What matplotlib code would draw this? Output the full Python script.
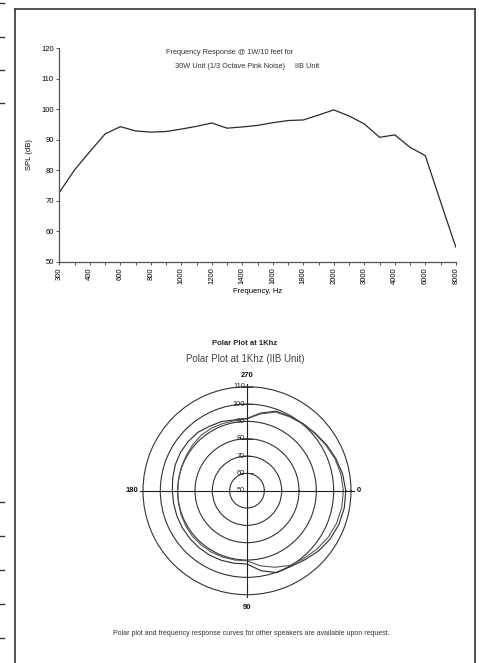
import numpy as np
import matplotlib
matplotlib.use("Agg")
import matplotlib.pyplot as plt
from matplotlib.lines import Line2D

plt.rcParams['font.family'] = ['Liberation Sans', 'DejaVu Sans']

# ---------------- data ----------------
freq_categories = ["300", "350", "400", "500", "600", "700", "800", "900", "1000",
                   "1100", "1200", "1300", "1400", "1500", "1600", "1700", "1800",
                   "1900", "2000", "2500", "3000", "3500", "4000", "5000", "6000",
                   "7000", "8000"]
spl_db = [72.7, 80.1, 86.1, 91.9, 94.3, 92.9, 92.5, 92.7, 93.5, 94.4, 95.5, 93.8,
          94.2, 94.7, 95.6, 96.3, 96.5, 98.1, 99.8, 97.8, 95.2, 90.8, 91.6, 87.5,
          84.8, 69.7, 54.8]
spl_ticks = [50, 60, 70, 80, 90, 100, 110, 120]

polar_angles = list(range(0, 360, 10))
polar_series_a = [107.0, 107.0, 106.5, 105.5, 104.0, 102.0, 100.5, 100.3, 96.9, 92.3,
                  92.5, 92.8, 93.0, 93.0, 93.0, 93.0, 93.0, 93.0, 93.1, 93.5,
                  94.0, 94.3, 94.2, 94.0, 93.0, 92.5, 91.5, 91.7, 95.5, 98.8,
                  99.5, 100.5, 101.5, 103.0, 104.5, 106.0]
polar_series_b = [105.6, 105.5, 105.0, 104.0, 102.5, 101.0, 99.8, 97.0, 94.0, 90.5,
                  90.6, 90.8, 91.0, 91.0, 91.0, 90.8, 90.5, 90.2, 90.0, 90.0,
                  90.2, 90.5, 91.0, 91.5, 91.5, 91.2, 91.0, 91.5, 95.0, 98.3,
                  99.2, 100.2, 101.2, 102.5, 104.0, 105.0]
polar_rings = [60, 70, 80, 90, 100, 110]
polar_angle_labels = ["0", "90", "180", "270"]

W, H = 479, 663
fig = plt.figure(figsize=(W / 100, H / 100), dpi=100)

def fx(px):
    return px / W

def fy(py):
    return 1 - py / H

line_col = '#2a2a2a'
axis_col = '#555555'

# ---------------- page frame & scan marks ----------------
frame_col = '#444444'
for (x0, y0, x1, y1) in [(15, 9, 15, 663), (15, 9, 475, 9), (475, 9, 475, 663)]:
    fig.add_artist(Line2D([fx(x0), fx(x1)], [fy(y0), fy(y1)], color=frame_col, lw=1.3))
for yy in [3, 37, 70, 103, 502, 536, 570, 604, 638]:
    fig.add_artist(Line2D([0, fx(4)], [fy(yy), fy(yy)], color='#333333', lw=1.0))

# ---------------- frequency response ----------------
ax = fig.add_axes([fx(59.3), fy(261.7), fx(455.8) - fx(59.3), fy(48.3) - fy(261.7)])
x = np.arange(len(freq_categories))
ax.plot(x, spl_db, color=line_col, lw=0.9)
ax.set_xlim(0, len(freq_categories) - 1)
ax.set_ylim(50, 120)
ax.set_yticks(spl_ticks)
ax.set_yticklabels([str(t) for t in spl_ticks], fontsize=5.5)
ax.set_xticks(x)
ax.set_xticklabels([c if i % 2 == 0 else "" for i, c in enumerate(freq_categories)],
                   rotation=90, fontsize=5.5)
for s in ['top', 'right']:
    ax.spines[s].set_visible(False)
for s in ['left', 'bottom']:
    ax.spines[s].set_color(axis_col)
    ax.spines[s].set_linewidth(0.9)
ax.tick_params(axis='both', direction='out', length=2.5, width=0.7, color=axis_col, pad=1.5)
ax.set_xlabel("Frequency, Hz", fontsize=5.5, labelpad=3)
ax.set_ylabel("SPL (dB)", fontsize=5.5, labelpad=6)

fig.text(fx(229.6), fy(52.7), "Frequency Response @ 1W/10 feet for", fontsize=5.3,
         ha='center', va='center', color='#333333')
fig.text(fx(247.5), fy(66), "30W Unit (1/3 Octave Pink Noise)     IIB Unit", fontsize=5.3,
         ha='center', va='center', color='#333333')

# ---------------- polar plot ----------------
fig.text(fx(245), fy(343), "Polar Plot at 1Khz", fontsize=5.5, fontweight='bold',
         ha='center', va='center', color='#222222')
fig.text(fx(245), fy(359), "Polar Plot at 1Khz (IIB Unit)", fontsize=7.0,
         ha='center', va='center', color='#444444')

cx, cy, R = 247, 490.7, 104
pax = fig.add_axes([fx(cx - R), fy(cy + R), 2 * R / W, 2 * R / H], projection='polar')
pax.set_theta_zero_location('E')
pax.set_theta_direction(-1)
pax.set_ylim(50, 110)
pax.set_xticks([])
pax.set_yticks(polar_rings[:-1])
pax.set_yticklabels([])
pax.yaxis.grid(True, color='#333333', lw=0.8, ls='-')
pax.spines['polar'].set_color('#333333')
pax.spines['polar'].set_linewidth(0.8)
pax.patch.set_alpha(0)

th = np.deg2rad(polar_angles + [polar_angles[0]])
pax.plot(th, polar_series_a + [polar_series_a[0]], color=line_col, lw=0.8)
pax.plot(th, polar_series_b + [polar_series_b[0]], color='#555555', lw=0.8)

for lab in polar_angle_labels:
    a = np.deg2rad(float(lab))
    pax.plot([a, a], [50, 111.5], color='#222222', lw=0.8, clip_on=False)

top = np.deg2rad(270)
for v in [50] + polar_rings:
    if v > 50:
        pax.plot([top], [v], marker='_', markersize=9, color='#333333', mew=0.7, clip_on=False)
    pax.annotate(str(v), xy=(top, v), xytext=(-1.5, 0), textcoords='offset points',
                 ha='right', va='center', fontsize=5.3, color='#222222')

label_pos = {"0": (np.deg2rad(0), 114.5), "90": (np.deg2rad(90), 117.5),
             "180": (np.deg2rad(180), 116.5), "270": (np.deg2rad(270), 116.2)}
for lab in polar_angle_labels:
    a, r = label_pos[lab]
    pax.text(a, r, lab, fontsize=5.5, ha='center', va='center', color='#111111',
             fontweight='bold')

fig.text(fx(251.5), fy(633.5),
         "Polar plot and frequency response curves for other speakers are available upon request.",
         fontsize=5.0, ha='center', va='center', color='#333333')

fig.savefig("out.png", dpi=100)
